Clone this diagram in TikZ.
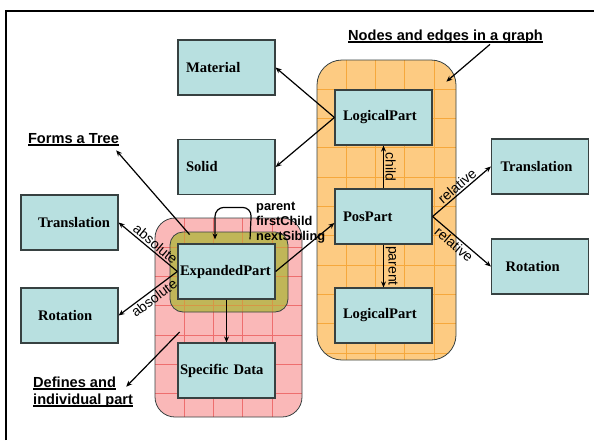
\documentclass[tikz,border=0pt]{standalone}
\usepackage{fontspec}
\setmainfont{Liberation Serif}
\newfontfamily\lsans{Liberation Sans}
\usetikzlibrary{arrows.meta,calc}
\setlength{\parindent}{0pt}
\definecolor{boxfill}{RGB}{184,224,224}
\definecolor{boxdraw}{RGB}{55,65,65}
\definecolor{pinkfill}{RGB}{250,184,184}
\definecolor{pinkgrid}{RGB}{238,110,110}
\definecolor{orfill}{RGB}{253,203,130}
\definecolor{orgrid}{RGB}{246,168,60}
\definecolor{olfill}{RGB}{192,182,88}
\definecolor{olgrid}{RGB}{214,150,70}
\newcommand{\myul}[1]{\setbox0\hbox{#1}\rlap{\rule[-3pt]{\wd0}{2pt}}\box0}
\newcommand{\bx}[2]{\hspace*{#1pt}#2}
\begin{document}
\begin{tikzpicture}[x=1pt,y=-1pt,
  box/.style={draw=boxdraw, fill=boxfill, line width=1.2pt, minimum width=97pt,
    minimum height=55pt, inner sep=0pt, text width=97pt, align=left,
    font=\fontsize{14.6}{16}\selectfont\bfseries},
  arr/.style={line width=1.2pt, -{Stealth[length=6pt,width=5pt]}},
  ttl/.style={font=\lsans\bfseries\fontsize{14.6}{17}\selectfont, inner sep=1pt},
  lbl/.style={font=\lsans\fontsize{14}{16}\selectfont, inner sep=1.5pt},
  region/.style={draw=boxdraw, line width=0.8pt, inner sep=0pt},
  gridded/.style n args={3}{path picture={
    \foreach \k in {1,...,#2}
      \draw[#1, line width=0.9pt] ([xshift=\k*29.3pt]path picture bounding box.north west)
        -- ([xshift=\k*29.3pt]path picture bounding box.south west);
    \foreach \k in {1,...,#3}
      \draw[#1, line width=0.9pt] ([yshift=-\k*29.3pt]path picture bounding box.north west)
        -- ([yshift=-\k*29.3pt]path picture bounding box.north east);}}]

\useasboundingbox (0,0) rectangle (594,440);
\draw[line width=2pt] (6,440) -- (6,11) -- (594,11);

% regions
\node[region, fill=orfill, rounded corners=25pt, minimum width=139pt, minimum height=300pt,
  gridded={orgrid}{4}{10}] (oran) at (386.5,210) {};
\node[region, fill=pinkfill, rounded corners=20pt, minimum width=147pt, minimum height=199pt,
  gridded={pinkgrid}{4}{6}] (pnk) at (228.5,317.5) {};
\node[region, fill=olfill, rounded corners=13pt, minimum width=118pt, minimum height=80pt,
  path picture={
    \foreach \d in {14.3,43.6,72.9,102.2}
      \draw[olgrid, line width=0.9pt] ([xshift=\d pt]path picture bounding box.north west)
        -- ([xshift=\d pt]path picture bounding box.south west);
    \foreach \d in {15.3,44.6,73.9}
      \draw[olgrid, line width=0.9pt] ([yshift=-\d pt]path picture bounding box.north west)
        -- ([yshift=-\d pt]path picture bounding box.north east);}] (olv) at (229,272) {};

% boxes
\node[box] (mat) at (226.5,67.5) {\bx{8}{Material}};
\node[box] (sol) at (226.5,167) {\bx{8}{Solid}};
\node[box] (trL) at (69.5,222.5) {\bx{17}{Translation}};
\node[box] (rotL) at (69.5,315.5) {\bx{17}{Rotation}};
\node[box] (ep) at (226.5,271.5) {\bx{2}{ExpandedPart}};
\node[box] (sd) at (226.5,370.5) {\bx{2}{Specific Data}};
\node[box] (lp1) at (383.5,117.5) {\bx{8}{LogicalPart}};
\node[box] (pp) at (383.5,216.5) {\bx{8}{PosPart}};
\node[box] (lp2) at (383.5,315.5) {\bx{8}{LogicalPart}};
\node[box] (trR) at (540,166.5) {\bx{9}{Translation}};
\node[box] (rotR) at (540,266.5) {\bx{14}{Rotation}};

% titles
\node[ttl] (fat) at (73.5,139.6) {\myul{Forms a Tree}};
\node[ttl] (neg) at (445.5,36.3) {\myul{Nodes and edges in a graph}};
\node[ttl, align=left, anchor=north west] (def) at (32,375.7) {\myul{Defines and}\\\myul{individual part}};
\node[font=\lsans\bfseries\fontsize{12.8}{15}\selectfont, align=left, anchor=north west, inner sep=0pt]
  (pfn) at (256,201.5) {parent\\firstChild\\nextSibling};

% connectors
\draw[arr] (lp1.west) -- (mat.east);
\draw[arr] (lp1.west) -- (sol.east);
\draw[arr] (pp.north) -- node[lbl, midway, rotate=-90, anchor=south] {child} (lp1.south);
\draw[arr] (pp.south) -- node[lbl, midway, rotate=-90, anchor=south] {parent} (lp2.north);
\draw[arr] (pp.east) -- node[lbl, midway, sloped, above] {relative} (trR.west);
\draw[arr] (pp.east) -- node[lbl, pos=0.45, sloped, below] {relative} (rotR.west);
\draw[arr] (ep.east) -- ($(pp.west)+(0,6.5)$);
\draw[arr] (ep.west) -- node[lbl, pos=0.45, sloped, above] {absolute} (trL.east);
\draw[arr] (ep.west) -- node[lbl, pos=0.47, sloped, below] {absolute} (rotL.east);
\draw[arr] (ep.south) -- (sd.north);
\draw[arr, rounded corners=9pt] ($(ep.north)+(23.5,-4)$) -- ($(ep.north)+(25,-36)$)
  -- ($(ep.north)+(-11.5,-36)$) -- ($(ep.north)+(-11.5,-4)$);
\draw[arr] ($(olv.north west)+(20,3)$) -- ($(fat.south east)+(-4,3)$);
\draw[arr] ($(neg.south)+(44.5,0)$) -- ($(oran.north east)+(-10,22)$);
\draw[arr] ($(pnk.west)+(25,14.5)$) -- ($(def.north east)+(-8,11)$);
\end{tikzpicture}
\end{document}
